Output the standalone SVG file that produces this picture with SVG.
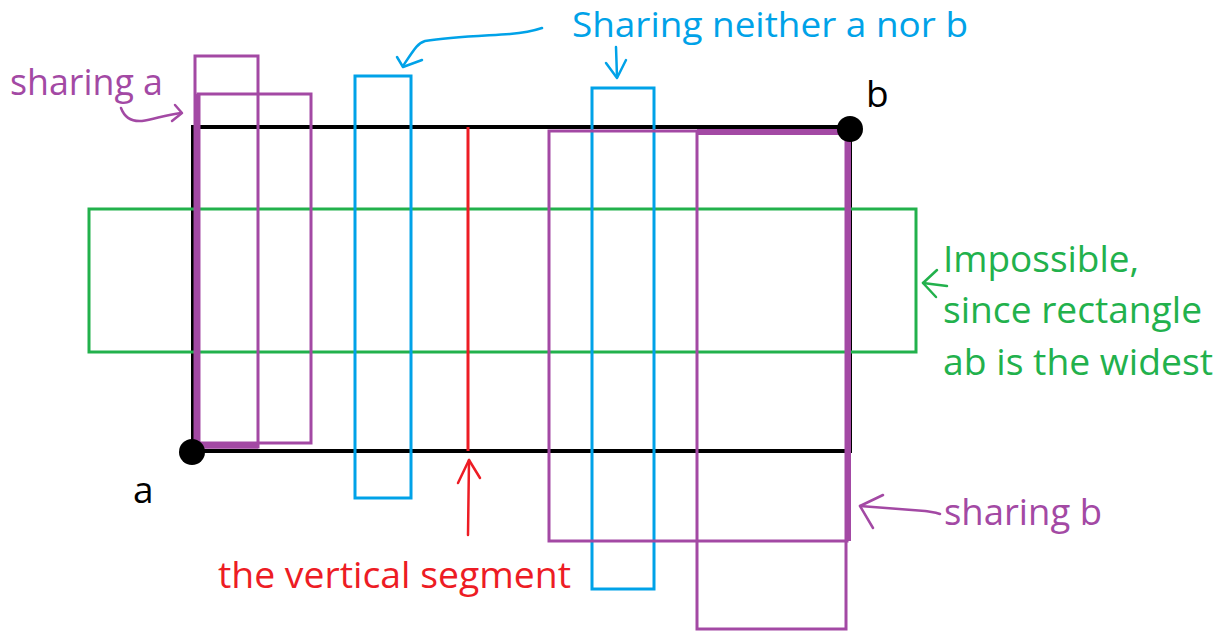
<svg xmlns="http://www.w3.org/2000/svg" width="1227" height="634" viewBox="0 0 1227 634">
<style>
  .t { font-family: "Open Sans", "Noto Sans", sans-serif; font-size: 37px; }
  .pu { fill: none; stroke: #A349A4; stroke-width: 3; }
  .bl { fill: none; stroke: #00A2E8; stroke-width: 3; }
  .gr { fill: none; stroke: #22B14C; stroke-width: 3; }
  .rd { fill: none; stroke: #ED1C24; stroke-width: 3; }
  .bk { fill: none; stroke: #000; stroke-width: 4; }
  .hand { fill: none; stroke-width: 2.5; stroke-linecap: round; stroke-linejoin: round; }
</style>
<rect width="1227" height="634" fill="#fff"/>

<g id="rect-ab">
  <rect class="bk" x="193" y="127" width="657" height="324"/>
</g>
<g id="green-rect">
  <rect class="gr" x="89" y="209" width="827" height="143"/>
</g>
<g id="purple-a1">
  <rect class="pu" x="195" y="56" width="63" height="391"/>
</g>
<g id="purple-a2">
  <rect class="pu" x="198" y="94" width="113" height="349"/>
  <path d="M198,94 V446 H258" fill="none" stroke="#A349A4" stroke-width="5"/>
</g>
<g id="blue-1">
  <rect class="bl" x="355" y="76" width="56" height="422"/>
</g>
<g id="red-segment">
  <line class="rd" x1="468" y1="127" x2="468" y2="451"/>
</g>
<g id="blue-2">
  <rect class="bl" x="592" y="88" width="62" height="501"/>
</g>
<g id="purple-b1">
  <rect class="pu" x="549" y="131" width="298" height="410"/>
</g>
<g id="purple-b2">
  <rect class="pu" x="697" y="133" width="149" height="496"/>
  <path d="M697,132 H848 V541" fill="none" stroke="#A349A4" stroke-width="6"/>
</g>
<g id="point-a">
  <circle cx="192" cy="452" r="13" fill="#000"/>
  <text class="t" x="133" y="503" fill="#000">a</text>
</g>
<g id="point-b">
  <circle cx="850" cy="129" r="13" fill="#000"/>
  <text class="t" x="866" y="107" fill="#000">b</text>
</g>

<g id="connectors">
  <path class="hand" stroke="#A349A4" d="M121,108 C124,116 130,122 142,121 C155,119 165,115 181,113"/>
  <path class="hand" stroke="#A349A4" d="M175,105 L182,113 L172,121"/>
  <path class="hand" stroke="#00A2E8" d="M542,28 C530,32 522,33 510,34 C480,36 450,37 425,41 C418,43 415,48 403,66"/>
  <path class="hand" stroke="#00A2E8" d="M397,57 L403,67 L422,60"/>
  <path class="hand" stroke="#00A2E8" d="M616,47 L617,77"/>
  <path class="hand" stroke="#00A2E8" d="M606,63 L617,78 L626,60"/>
  <path class="hand" stroke="#22B14C" d="M937,270 L923,283 L936,297"/>
  <path class="hand" stroke="#22B14C" d="M923,283 L947,286"/>
  <path class="hand" stroke="#ED1C24" d="M468,535 L469,460"/>
  <path class="hand" stroke="#ED1C24" d="M458,483 L469,460 L480,478"/>
  <path class="hand" stroke="#A349A4" d="M940,514 C935,512 930,512 925,511 L860,506"/>
  <path class="hand" stroke="#A349A4" d="M883,495 L860,506 L873,528"/>
</g>

<g id="label-sharing-a">
  <text class="t" x="10" y="95" fill="#A349A4" textLength="153" lengthAdjust="spacingAndGlyphs">sharing a</text>
</g>
<g id="label-neither">
  <text class="t" x="572" y="37" fill="#00A2E8" style="font-size:35px" textLength="396" lengthAdjust="spacingAndGlyphs">Sharing neither a nor b</text>
</g>
<g id="label-impossible">
  <text class="t" x="943" y="272" fill="#22B14C" textLength="196" lengthAdjust="spacingAndGlyphs">Impossible,</text>
  <text class="t" x="943" y="323" fill="#22B14C" textLength="259" lengthAdjust="spacingAndGlyphs">since rectangle</text>
  <text class="t" x="943" y="375" fill="#22B14C" textLength="270" lengthAdjust="spacingAndGlyphs">ab is the widest</text>
</g>
<g id="label-vertical">
  <text class="t" x="218" y="588" fill="#ED1C24" textLength="353" lengthAdjust="spacingAndGlyphs">the vertical segment</text>
</g>
<g id="label-sharing-b">
  <text class="t" x="944" y="525" fill="#A349A4" textLength="158" lengthAdjust="spacingAndGlyphs">sharing b</text>
</g>
</svg>
